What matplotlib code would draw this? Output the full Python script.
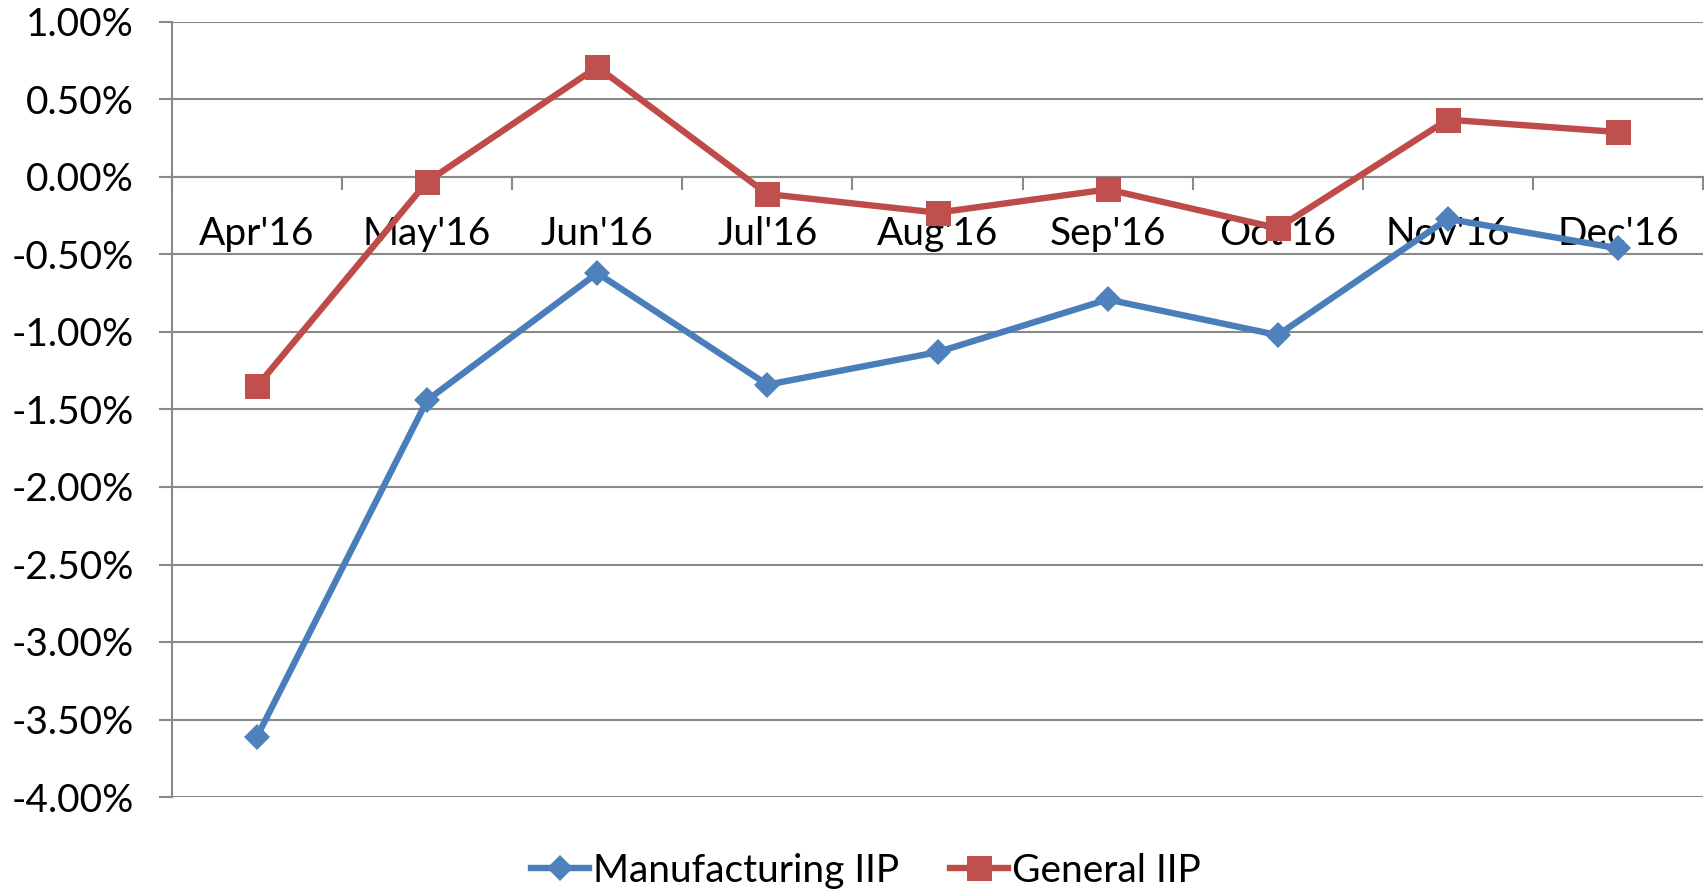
import numpy as np
import matplotlib
matplotlib.use("Agg")
import matplotlib.pyplot as plt
import matplotlib.ticker as tk

#######################
# Chart data
#######################
months = ["Apr'16", "May'16", "Jun'16", "Jul'16", "Aug'16",
          "Sep'16", "Oct'16", "Nov'16", "Dec'16"]
mfg_iip = [-3.61, -1.44, -0.62, -1.34, -1.13, -0.79, -1.02, -0.27, -0.46]
gen_iip = [-1.35, -0.03, 0.71, -0.11, -0.23, -0.08, -0.33, 0.37, 0.29]
y_ticks = [1.0, 0.5, 0.0, -0.5, -1.0, -1.5, -2.0, -2.5, -3.0, -3.5, -4.0]

blue = '#4A7EBB'
red = '#BE4B48'
grey = '#898989'

plt.rcParams['font.family'] = ['Lato', 'DejaVu Sans']
plt.rcParams['axes.unicode_minus'] = False

fig = plt.figure(figsize=(17.04, 8.90), dpi=100)
ax = fig.add_axes([172/1704, 1-797/890, 1-173/1704, (797-22)/890])

x = np.arange(len(months))
ax.plot(x, mfg_iip, color=blue, lw=4.6, marker='D', ms=13.5,
        mfc='#4F81BD', mec='#4F81BD', mew=0, label='Manufacturing IIP',
        zorder=3, clip_on=False)
ax.plot(x, gen_iip, color=red, lw=4.6, marker='s', ms=18,
        mfc='#C0504D', mec='#C0504D', mew=0, label='General IIP',
        zorder=4, clip_on=False)

# y axis
ax.set_ylim(-4.0, 1.0)
ax.set_yticks(y_ticks)
ax.set_yticklabels(['%.2f%%' % v for v in y_ticks])
ax.yaxis.grid(True, color=grey, lw=1.5)
ax.tick_params(axis='y', length=9.5, width=1.5, color=grey, pad=18,
               labelsize=28)

# x axis sits on zero, ticks at category edges, labels at centres
ax.set_xlim(-0.5, len(months) - 0.5)
ax.spines['bottom'].set_position(('data', 0))
ax.xaxis.set_major_locator(tk.FixedLocator(np.arange(len(months) + 1) - 0.5))
ax.xaxis.set_major_formatter(tk.NullFormatter())
ax.xaxis.set_minor_locator(tk.FixedLocator(x))
ax.xaxis.set_minor_formatter(tk.FixedFormatter(months))
ax.tick_params(axis='x', which='major', length=9.5, width=1.5, color=grey)
ax.tick_params(axis='x', which='minor', length=0, pad=28, labelsize=28)

for s in ['top', 'right']:
    ax.spines[s].set_visible(False)
for s in ['left', 'bottom']:
    ax.spines[s].set_color(grey)
    ax.spines[s].set_linewidth(1.5)
ax.set_axisbelow(True)

fig.legend(loc='center', bbox_to_anchor=(866/1704, 1-871/890), ncol=2,
           frameon=False, fontsize=28, handlelength=1.5, handletextpad=0.1,
           columnspacing=1.3)

fig.savefig('out.png', dpi=100)
